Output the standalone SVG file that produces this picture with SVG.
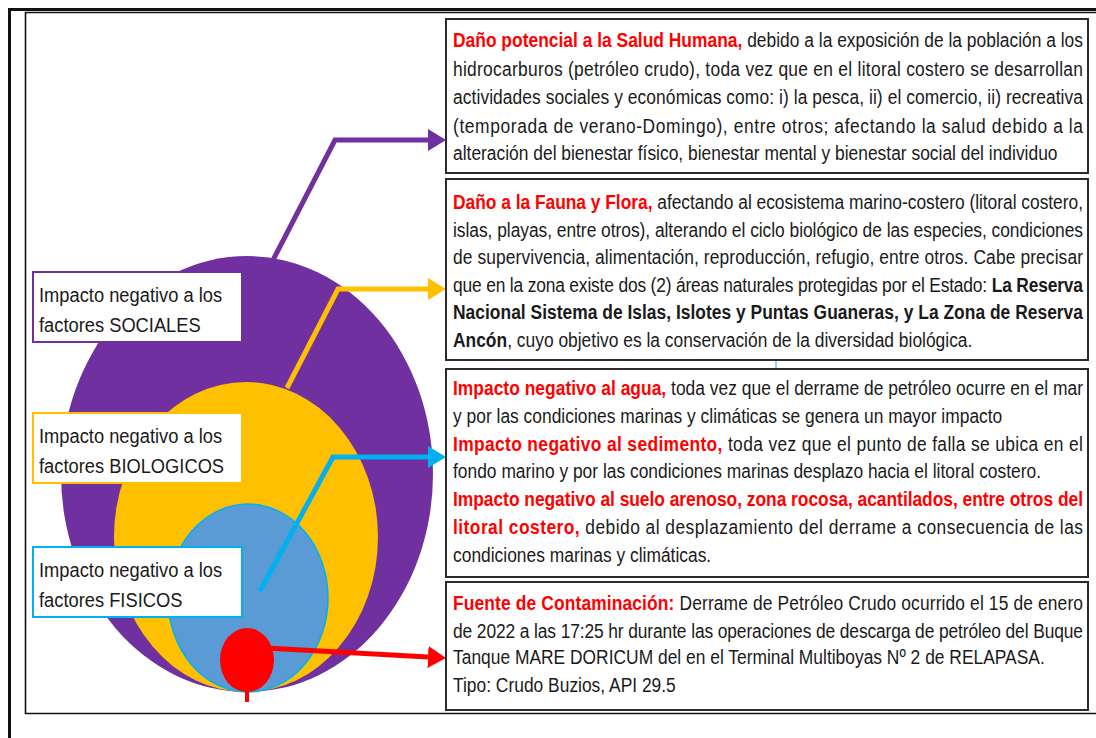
<svg xmlns="http://www.w3.org/2000/svg" width="1096" height="738" viewBox="0 0 1096 738">
<style>
.t{font-family:"Liberation Sans",Arial,sans-serif;font-size:17.4px;fill:#1a1a1a}
.lbl{font-size:18.3px}
.r{fill:#ff0000;font-weight:bold}
.b{font-weight:bold}
.box{fill:#fff;stroke:#2b2b2b;stroke-width:2}
.frame{fill:none;stroke:#111}
.conn{fill:none;stroke-width:5;stroke-linejoin:miter}
</style>
<defs>
<marker id="ap" markerUnits="userSpaceOnUse" markerWidth="19" markerHeight="22" refX="0" refY="11" orient="auto"><path d="M0,0 L18,11 L0,22 z" fill="#7030A0"/></marker>
<marker id="ay" markerUnits="userSpaceOnUse" markerWidth="19" markerHeight="22" refX="0" refY="11" orient="auto"><path d="M0,0 L18,11 L0,22 z" fill="#FFC000"/></marker>
<marker id="ab" markerUnits="userSpaceOnUse" markerWidth="19" markerHeight="22" refX="0" refY="11" orient="auto"><path d="M0,0 L18,11 L0,22 z" fill="#00B0F0"/></marker>
<marker id="ar" markerUnits="userSpaceOnUse" markerWidth="19" markerHeight="22" refX="0" refY="11" orient="auto"><path d="M0,0 L18,11 L0,22 z" fill="#FF0000"/></marker>
</defs>
<rect width="1096" height="738" fill="#fff"/>
<g id="frames">
<path class="frame" d="M9.5,738 V9.5 H1096" stroke-width="3"/>
<path class="frame" d="M1096,12.5 H25.5 V713.5 H1096" stroke-width="1.6"/>
</g>
<g id="circles">
<ellipse id="e-social" cx="247" cy="474" rx="186" ry="218" fill="#7030A0"/>
<ellipse id="e-bio" cx="246" cy="537" rx="132" ry="155" fill="#FFC000"/>
<ellipse id="e-fis" cx="248" cy="598" rx="80" ry="94" fill="#5B9BD5" stroke="#00B0F0" stroke-width="1.5"/>
</g>
<g id="connectors">
<path class="conn" stroke="#7030A0" d="M272,262 L335,140 L428,140" marker-end="url(#ap)"/>
<path class="conn" stroke="#FFC000" d="M287,388 L338,289 L428,289" marker-end="url(#ay)"/>
<path class="conn" stroke="#00B0F0" d="M260,591 L333,457 L428,457" marker-end="url(#ab)"/>
<path class="conn" stroke="#FF0000" d="M266,648 L428,657" marker-end="url(#ar)"/>
<line x1="247" y1="688" x2="247" y2="702" stroke="#FF0000" stroke-width="4"/>
<line x1="776" y1="361" x2="776" y2="369" stroke="#00B0F0" stroke-width="1"/>
</g>
<g id="source">
<ellipse cx="247" cy="660" rx="27" ry="32" fill="#FF0000"/>
</g>
<g id="lbl-sociales">
<rect x="33" y="272" width="209" height="70" fill="#fff" stroke="#7030A0" stroke-width="2"/>
<text class="t lbl" transform="translate(39 302) scale(1 1.15)">Impacto negativo a los</text>
<text class="t lbl" transform="translate(39 332) scale(1 1.15)">factores SOCIALES</text>
</g>
<g id="lbl-biologicos">
<rect x="33" y="413" width="209" height="70" fill="#fff" stroke="#FFC000" stroke-width="2"/>
<text class="t lbl" transform="translate(39 443) scale(1 1.15)">Impacto negativo a los</text>
<text class="t lbl" transform="translate(39 473) scale(1 1.15)">factores BIOLOGICOS</text>
</g>
<g id="lbl-fisicos">
<rect x="33" y="547" width="209" height="70" fill="#fff" stroke="#00B0F0" stroke-width="2"/>
<text class="t lbl" transform="translate(39 577) scale(1 1.15)">Impacto negativo a los</text>
<text class="t lbl" transform="translate(39 607) scale(1 1.15)">factores FISICOS</text>
</g>
<g id="box-salud">
<rect class="box" x="446" y="19" width="642" height="154"/>
<text class="t" transform="translate(453 47) scale(1 1.15)" textLength="630" lengthAdjust="spacing"><tspan class="r">Daño potencial a la Salud Humana,</tspan> debido a la exposición de la población a los</text>
<text class="t" transform="translate(453 75.5) scale(1 1.15)" textLength="630" lengthAdjust="spacing">hidrocarburos (petróleo crudo), toda vez que en el litoral costero se desarrollan</text>
<text class="t" transform="translate(453 104) scale(1 1.15)" textLength="630" lengthAdjust="spacing">actividades sociales y económicas como: i) la pesca, ii) el comercio, ii) recreativa</text>
<text class="t" transform="translate(453 132.5) scale(1 1.15)" textLength="630" lengthAdjust="spacing">(temporada de verano-Domingo), entre otros; afectando la salud debido a la</text>
<text class="t" transform="translate(453 160) scale(1 1.15)">alteración del bienestar físico, bienestar mental y bienestar social del individuo</text>
</g>
<g id="box-fauna">
<rect class="box" x="446" y="179" width="642" height="181"/>
<text class="t" transform="translate(453 209) scale(1 1.15)" textLength="630" lengthAdjust="spacing"><tspan class="r">Daño a la Fauna y Flora,</tspan> afectando al ecosistema marino-costero (litoral costero,</text>
<text class="t" transform="translate(453 236.6) scale(1 1.15)" textLength="630" lengthAdjust="spacing">islas, playas, entre otros), alterando el ciclo biológico de las especies, condiciones</text>
<text class="t" transform="translate(453 264.2) scale(1 1.15)" textLength="630" lengthAdjust="spacing">de supervivencia, alimentación, reproducción, refugio, entre otros. Cabe precisar</text>
<text class="t" transform="translate(453 291.8) scale(1 1.15)" textLength="630" lengthAdjust="spacing">que en la zona existe dos (2) áreas naturales protegidas por el Estado: <tspan class="b">La Reserva</tspan></text>
<text class="t b" transform="translate(453 319.4) scale(1 1.15)" textLength="630" lengthAdjust="spacing">Nacional Sistema de Islas, Islotes y Puntas Guaneras, y La Zona de Reserva</text>
<text class="t" transform="translate(453 347) scale(1 1.15)"><tspan class="b">Ancón</tspan>, cuyo objetivo es la conservación de la diversidad biológica.</text>
</g>
<g id="box-fisicos">
<rect class="box" x="446" y="369" width="642" height="208"/>
<text class="t" transform="translate(453 395) scale(1 1.15)" textLength="630" lengthAdjust="spacing"><tspan class="r">Impacto negativo al agua,</tspan> toda vez que el derrame de petróleo ocurre en el mar</text>
<text class="t" transform="translate(453 422.8) scale(1 1.15)">y por las condiciones marinas y climáticas se genera un mayor impacto</text>
<text class="t" transform="translate(453 450.6) scale(1 1.15)" textLength="630" lengthAdjust="spacing"><tspan class="r">Impacto negativo al sedimento,</tspan> toda vez que el punto de falla se ubica en el</text>
<text class="t" transform="translate(453 478.4) scale(1 1.15)">fondo marino y por las condiciones marinas desplazo hacia el litoral costero.</text>
<text class="t r" transform="translate(453 506.2) scale(1 1.15)" textLength="630" lengthAdjust="spacing">Impacto negativo al suelo arenoso, zona rocosa, acantilados, entre otros del</text>
<text class="t" transform="translate(453 534) scale(1 1.15)" textLength="630" lengthAdjust="spacing"><tspan class="r">litoral costero,</tspan> debido al desplazamiento del derrame a consecuencia de las</text>
<text class="t" transform="translate(453 561.8) scale(1 1.15)">condiciones marinas y climáticas.</text>
</g>
<g id="box-fuente">
<rect class="box" x="446" y="582" width="642" height="128"/>
<text class="t" transform="translate(453 609.5) scale(1 1.15)" textLength="630" lengthAdjust="spacing"><tspan class="r">Fuente de Contaminación:</tspan> Derrame de Petróleo Crudo ocurrido el 15 de enero</text>
<text class="t" transform="translate(453 637.5) scale(1 1.15)" textLength="630" lengthAdjust="spacing">de 2022 a las 17:25 hr durante las operaciones de descarga de petróleo del Buque</text>
<text class="t" transform="translate(453 664) scale(1 1.15)">Tanque MARE DORICUM del en el Terminal Multiboyas Nº 2 de RELAPASA.</text>
<text class="t" transform="translate(453 692) scale(1 1.15)">Tipo: Crudo Buzios, API 29.5</text>
</g>
</svg>
